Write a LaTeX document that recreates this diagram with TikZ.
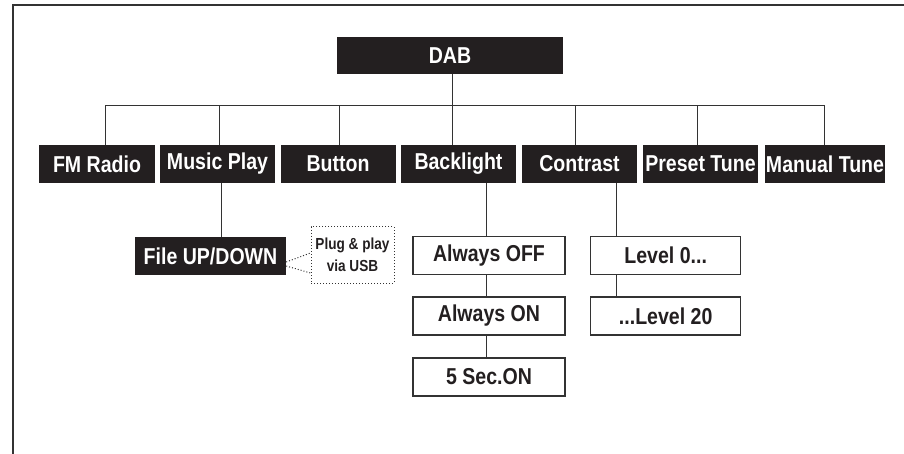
\documentclass[tikz,border=0pt]{standalone}
\usepackage{fontspec}
\setmainfont{Liberation Sans}[FakeStretch=0.85]
\usepackage{xcolor}
\usetikzlibrary{calc}
\definecolor{boxblack}{HTML}{231F20}
\definecolor{linegray}{HTML}{333333}

\tikzset{
  menu/.style={fill=boxblack, text=white, minimum width=115pt, minimum height=38pt,
    inner sep=0pt, font=\fontsize{23}{25}\selectfont\bfseries},
  option/.style={draw=linegray, line width=1.2pt, fill=white, minimum width=152pt,
    minimum height=38pt, inner sep=0pt, text=boxblack, font=\fontsize{23}{25}\selectfont\bfseries},
  note/.style={draw=linegray, dotted, line width=1pt, minimum width=83pt, minimum height=56pt,
    inner sep=0pt, align=center, text=boxblack, font=\fontsize{16}{21.6}\selectfont\bfseries},
  link/.style={draw=linegray, line width=1pt}
}

\begin{document}
\begin{tikzpicture}[x=1pt, y=-1pt]
  \useasboundingbox (0,0) rectangle (904,454);
  \draw[linegray, line width=2.5pt] (13,454) |- (904,5);

  \node[menu, minimum width=226pt, minimum height=37pt] (dab) at (450,55.5) {DAB};

  \node[menu, minimum width=116pt] (fm) at (97,164) {FM Radio};
  \node[menu] (mp) at (217.5,164) {Music Play};
  \node[menu] (btn) at (338,164) {Button};
  \node[menu] (bl) at (458.5,164) {Backlight};
  \node[menu] (con) at (579.5,164) {Contrast};
  \node[menu] (pre) at (700.5,164) {Preset Tune};
  \node[menu, minimum width=120pt] (man) at (825,164) {Manual Tune};

  \node[menu, minimum width=151pt] (file) at (210.5,256) {File UP/DOWN};
  \node[note] (usb) at (352.5,255) {Plug \& play\\via USB};

  \node[option] (off) at (489,255.5) {Always OFF};
  \node[option] (on) at (489,316) {Always ON};
  \node[option] (sec) at (489,377) {5 Sec.ON};

  \node[option, minimum width=150pt] (lv0) at (665.7,255.5) {Level 0...};
  \node[option, minimum width=150pt] (lv20) at (665.7,316) {...Level 20};

  \coordinate (bus) at (452,106);
  \draw[link] (dab.south -| bus) -- (bus);
  \foreach \n/\dx in {fm/8, mp/1.5, btn/1, bl/-6.5, con/-4.5, pre/-3.5, man/-1}
    \draw[link] ([xshift=\dx pt]\n.north) |- (bus);

  \draw[link] ([xshift=4pt]mp.south) -- ([xshift=4pt]mp.south |- file.north);
  \draw[link, dotted] ([yshift=-6pt]file.east) -- ([yshift=2pt]usb.west);
  \draw[link, dotted] ([yshift=-10pt]file.east) -- ([yshift=-18pt]usb.west);

  \draw[link] ([xshift=28pt]bl.south) -- ([xshift=28pt]bl.south |- off.north);
  \draw[link] ([xshift=-2.5pt]off.south) -- ([xshift=-2.5pt]on.north);
  \draw[link] ([xshift=-2.5pt]on.south) -- ([xshift=-2.5pt]sec.north);

  \draw[link] ([xshift=37pt]con.south) -- ([xshift=37pt]con.south |- lv0.north);
  \draw[link] ([xshift=-49pt]lv0.south) -- ([xshift=-49pt]lv20.north);
\end{tikzpicture}
\end{document}
